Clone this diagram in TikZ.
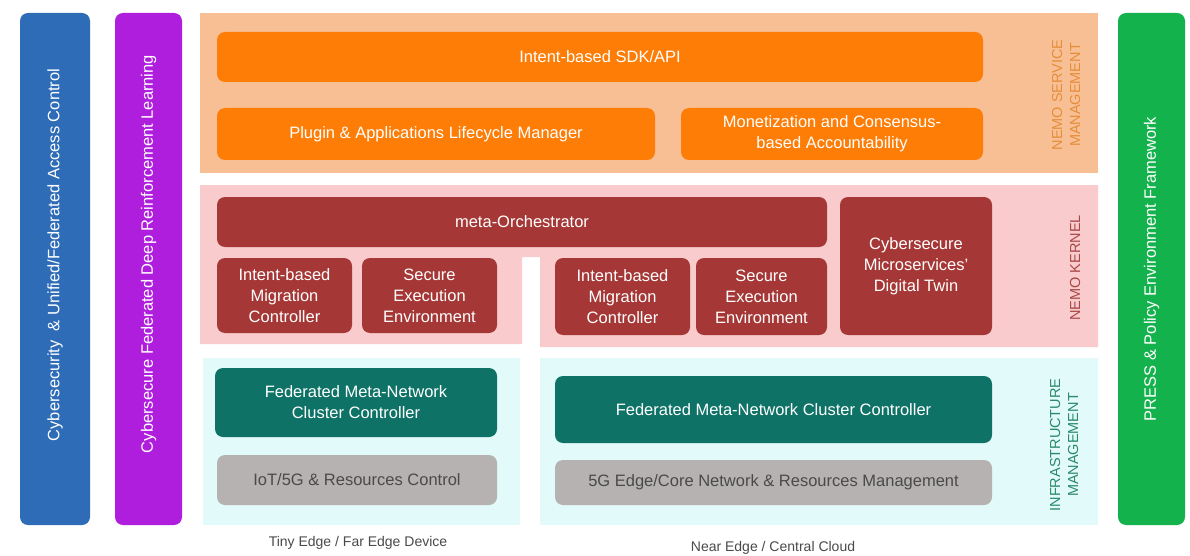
\documentclass[tikz,border=0pt]{standalone}
\usepackage{fontspec}
\setmainfont{Liberation Sans}
\definecolor{cblue}{HTML}{2E6CB8}
\definecolor{cpurple}{HTML}{B01EDD}
\definecolor{cgreen}{HTML}{14B24C}
\definecolor{orangebg}{HTML}{F8BF95}
\definecolor{orangebx}{HTML}{FD7D06}
\definecolor{orangelbl}{HTML}{E58E3A}
\definecolor{pinkbg}{HTML}{F9CBCC}
\definecolor{redbx}{HTML}{A53836}
\definecolor{redlbl}{HTML}{A84848}
\definecolor{cyanbg}{HTML}{E2FAFA}
\definecolor{tealbx}{HTML}{0E7266}
\definecolor{teallbl}{HTML}{2A8A6A}
\definecolor{greybx}{HTML}{B6B2B2}
\definecolor{greytxt}{HTML}{4A4A4A}
\tikzset{
  box/.style={rounded corners=8pt, draw=none, inner sep=0pt, align=center,
    text=white, font=\fontsize{16.5}{21}\selectfont},
  sidebar/.style={box, rotate=90, minimum width=512, font=\fontsize{16.5}{19}\selectfont},
  region/.style={draw=none, inner sep=0pt},
  sidelbl/.style={rotate=90, align=center, inner sep=0pt, font=\fontsize{14.5}{18}\selectfont},
  footlbl/.style={inner sep=0pt, text=greytxt, font=\fontsize{14}{16}\selectfont}
}
\begin{document}
\begin{tikzpicture}[x=1pt, y=-1pt]
\useasboundingbox[fill=white] (0,0) rectangle (1190,556);
% side bars
\node[sidebar, fill=cblue, minimum height=70] (acc) at (55,269) {\hspace{28pt}Cybersecurity \ \& Unified/Federated Access Control};
\node[sidebar, fill=cpurple, minimum height=67] (drl) at (148.5,269) {\hspace{30pt}Cybersecure Federated Deep Reinforcement Learning};
\node[sidebar, fill=cgreen, minimum height=67] (press) at (1151.5,269) {PRESS \& Policy Environment Framework};
% service management region
\node[region, fill=orangebg, minimum width=898, minimum height=160] (svc) at (649,93) {};
\node[box, fill=orangebx, minimum width=766, minimum height=50] (sdk) at (600,57) {Intent-based SDK/API};
\node[box, fill=orangebx, minimum width=438, minimum height=52] (plugin) at (436,134) {Plugin \& Applications Lifecycle Manager};
\node[box, fill=orangebx, minimum width=302, minimum height=52] (monet) at (832,134) {Monetization and Consensus-\\based Accountability};
\node[sidelbl, text=orangelbl] (svclbl) at (1066,95) {NEMO SERVICE\\MANAGEMENT};
% kernel region
\fill[pinkbg] (200,185) -- (1098,185) -- (1098,347) -- (540,347) -- (540,257) -- (522,257) -- (522,344) -- (200,344) -- cycle;
\node[box, fill=redbx, minimum width=610, minimum height=50] (meta) at (522,222) {meta-Orchestrator};
\node[box, fill=redbx, minimum width=135, minimum height=75] (imc1) at (284.5,295.5) {Intent-based\\Migration\\Controller};
\node[box, fill=redbx, minimum width=135, minimum height=75] (see1) at (429.5,295.5) {Secure\\Execution\\Environment};
\node[box, fill=redbx, minimum width=135, minimum height=77] (imc2) at (622.5,296.5) {Intent-based\\Migration\\Controller};
\node[box, fill=redbx, minimum width=131, minimum height=77] (see2) at (761.5,296.5) {Secure\\Execution\\Environment};
\node[box, fill=redbx, minimum width=152, minimum height=138] (twin) at (916,266) {Cybersecure\\Microservices'\\Digital Twin};
\node[sidelbl, text=redlbl] (kerlbl) at (1075,268) {NEMO KERNEL};
% infrastructure region
\node[region, fill=cyanbg, minimum width=317, minimum height=167] (infl) at (361.5,441.5) {};
\node[region, fill=cyanbg, minimum width=558, minimum height=167] (infr) at (819,441.5) {};
\node[box, fill=tealbx, minimum width=282, minimum height=69] (fm1) at (356,402.5) {Federated Meta-Network\\Cluster Controller};
\node[box, fill=greybx, text=greytxt, minimum width=280, minimum height=50] (iot) at (357,480) {IoT/5G \& Resources Control};
\node[box, fill=tealbx, minimum width=437, minimum height=67] (fm2) at (773.5,409.5) {Federated Meta-Network Cluster Controller};
\node[box, fill=greybx, text=greytxt, minimum width=437, minimum height=45] (core) at (773.5,482.5) {5G Edge/Core Network \& Resources Management};
\node[sidelbl, text=teallbl] (inflbl) at (1064,445) {INFRASTRUCTURE\\MANAGEMENT};
% footers
\node[footlbl] (tiny) at (358,543) {Tiny Edge / Far Edge Device};
\node[footlbl] (near) at (773,548) {Near Edge / Central Cloud};
\end{tikzpicture}
\end{document}
